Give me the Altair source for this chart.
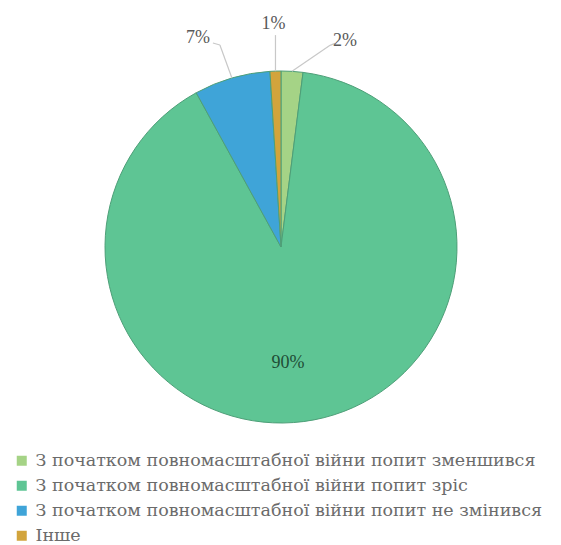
import altair as alt
import pandas as pd

categories = [
    "З початком повномасштабної війни попит зменшився",
    "З початком повномасштабної війни попит зріс",
    "З початком повномасштабної війни попит не змінився",
    "Інше",
]
values = [2, 90, 7, 1]
labels = ["2%", "90%", "7%", "1%"]
colors = ["#a5d386", "#5ec594", "#3fa4d8", "#d2a43c"]

df = pd.DataFrame({"category": categories, "value": values, "label": labels,
                   "order": list(range(len(categories)))})

CX, CY, R = 273, 239, 176

base = alt.Chart(df)

pie = base.mark_arc(outerRadius=R, stroke="#4e9f78", strokeWidth=1).encode(
    theta=alt.Theta("value:Q", stack=True),
    order=alt.Order("order:Q", sort="ascending"),
    color=alt.Color(
        "category:N",
        scale=alt.Scale(domain=categories, range=colors),
        sort=categories,
        legend=alt.Legend(
            title=None, orient="none", legendX=5, legendY=444,
            symbolType="square", symbolSize=100, symbolStrokeWidth=0,
            labelFont="DejaVu Serif", labelFontSize=17.5, labelColor="#6b6b6b",
            labelLimit=700, rowPadding=6, labelOffset=5,
        ),
    ),
    x=alt.value(CX),
    y=alt.value(CY),
)

geo = (
    base.transform_window(cum="sum(value)", sort=[alt.SortField("order")], frame=[None, 0])
    .transform_joinaggregate(total="sum(value)")
    .transform_calculate(mid="(datum.cum - datum.value/2)/datum.total*2*PI")
    .transform_calculate(ex=f"{CX} + {R}*sin(datum.mid)", ey=f"{CY} - {R}*cos(datum.mid)")
)


def annot(cat, rt, off, pts, color="#595959"):
    g = geo.transform_filter(alt.datum.category == cat).transform_calculate(
        bx=f"{CX} + {rt}*sin(datum.mid)", by=f"{CY} - {rt}*cos(datum.mid)"
    ).transform_calculate(tx=f"datum.bx + {off[0]}", ty=f"datum.by + {off[1]}")
    layers = []
    prev = (0, 0)
    for i, p in enumerate(pts):
        seg = g.transform_calculate(
            x1=f"datum.ex + {prev[0]}", y1=f"datum.ey + {prev[1]}",
            x2=f"datum.ex + {p[0]}", y2=f"datum.ey + {p[1]}",
        ).mark_rule(color="#c8c8c8", strokeWidth=1.2).encode(
            x=alt.X("x1:Q", scale=None), y=alt.Y("y1:Q", scale=None),
            x2="x2:Q", y2="y2:Q",
        )
        layers.append(seg)
        prev = p
    txt = g.mark_text(font="Liberation Serif", fontSize=18, color=color,
                      align="center", baseline="middle").encode(
        x=alt.X("tx:Q", scale=None), y=alt.Y("ty:Q", scale=None), text="label:N"
    )
    layers.append(txt)
    return layers


ann = []
ann += annot(categories[1], 118, (-15, 0), [], color="#1f4d36")
ann += annot(categories[2], R, (-34, -40), [(-12, -33), (-19, -35)])
ann += annot(categories[3], R, (-2, -47), [(0, -36)])
ann += annot(categories[0], R, (53, -30), [(38, -26), (43, -28)])

chart = alt.layer(pie, *ann).properties(
    width=545, height=537, autosize="none", padding=0
).configure_view(stroke=None)

chart.save("out.html", embed_options={"renderer": "svg", "actions": False})
